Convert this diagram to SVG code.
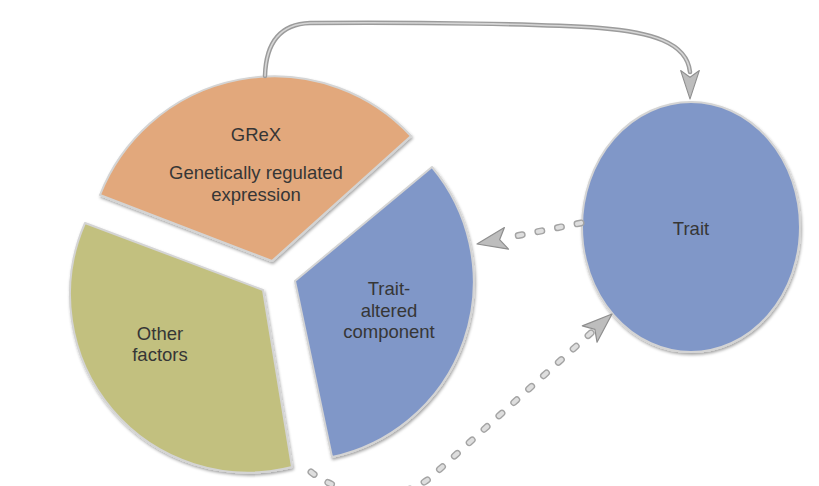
<svg xmlns="http://www.w3.org/2000/svg" xmlns:xlink="http://www.w3.org/1999/xlink" width="819" height="486" viewBox="0 0 819 486">
  <style>
    .lbl { font-family: "Liberation Sans", Arial, sans-serif; font-size: 18.5px; fill: #363636; text-anchor: middle; }
    .shape { stroke: #d4d4d4; stroke-width: 2; stroke-linejoin: round; filter: url(#sh); }
    .tubeOut { fill: none; stroke: #9c9c9c; stroke-width: 4.5; stroke-linecap: round; stroke-linejoin: round; }
    .tubeIn { fill: none; stroke: #d6d6d6; stroke-width: 1.6; stroke-linecap: round; stroke-linejoin: round; }
    .dotOut { fill: none; stroke: #a4a4a4; stroke-width: 7; stroke-linecap: round; stroke-dasharray: 4 16; }
    .dotIn { fill: none; stroke: #dedede; stroke-width: 4.2; stroke-linecap: round; stroke-dasharray: 4 16; }
    .head { fill: #bdbdbd; stroke: #8e8e8e; stroke-width: 1.2; stroke-linejoin: round; }
  </style>
  <defs>
    <filter id="sh" x="-10%" y="-10%" width="120%" height="120%">
      <feDropShadow dx="1" dy="2" stdDeviation="1.5" flood-color="#000" flood-opacity="0.35"/>
    </filter>
    <path id="ah" d="M 0 0 L -30 -11 L -23 0 L -30 11 Z"/>
  </defs>
  <rect width="819" height="486" fill="#ffffff"/>

  <g id="grex">
    <path class="shape" fill="#e2a87b" d="M 272 261 L 100 195 A 187 187 0 0 1 411 136 Z"/>
    <text class="lbl" x="256" y="141">GReX</text>
    <text class="lbl" x="256" y="179">Genetically regulated</text>
    <text class="lbl" x="256" y="201">expression</text>
  </g>

  <g id="other-factors">
    <path class="shape" fill="#c2c07f" d="M 263 290 L 85 223 A 178 178 0 0 0 292 467 Z"/>
    <text class="lbl" x="160" y="340">Other</text>
    <text class="lbl" x="160" y="361">factors</text>
  </g>

  <g id="trait-altered">
    <path class="shape" fill="#8097c8" d="M 295 281 L 432 167 A 179 179 0 0 1 332 457 Z"/>
    <text class="lbl" x="389" y="295">Trait-</text>
    <text class="lbl" x="389" y="317">altered</text>
    <text class="lbl" x="389" y="338">component</text>
  </g>

  <g id="trait">
    <ellipse class="shape" fill="#8097c8" cx="691" cy="227" rx="109" ry="125"/>
    <text class="lbl" x="691" y="235">Trait</text>
  </g>

  <g id="connectors">
    <path class="tubeOut" d="M 265 76 C 266 40, 282 24, 310 23 C 420 22, 540 24, 600 28 C 650 32, 687 42, 690 72"/>
    <path class="tubeIn" d="M 265 76 C 266 40, 282 24, 310 23 C 420 22, 540 24, 600 28 C 650 32, 687 42, 690 72"/>
    <use href="#ah" xlink:href="#ah" class="head" transform="translate(690 99) rotate(90) scale(0.95 0.85)"/>

    <path class="dotOut" d="M 581 223 L 506 238"/>
    <path class="dotIn" d="M 581 223 L 506 238"/>
    <use href="#ah" xlink:href="#ah" class="head" transform="translate(477 244) rotate(169.2)"/>

    <path class="dotOut" d="M 311 472 C 340 495, 395 505, 430 478 L 592 332"/>
    <path class="dotIn" d="M 311 472 C 340 495, 395 505, 430 478 L 592 332"/>
    <use href="#ah" xlink:href="#ah" class="head" transform="translate(612 314) rotate(-41.9)"/>
  </g>
</svg>
